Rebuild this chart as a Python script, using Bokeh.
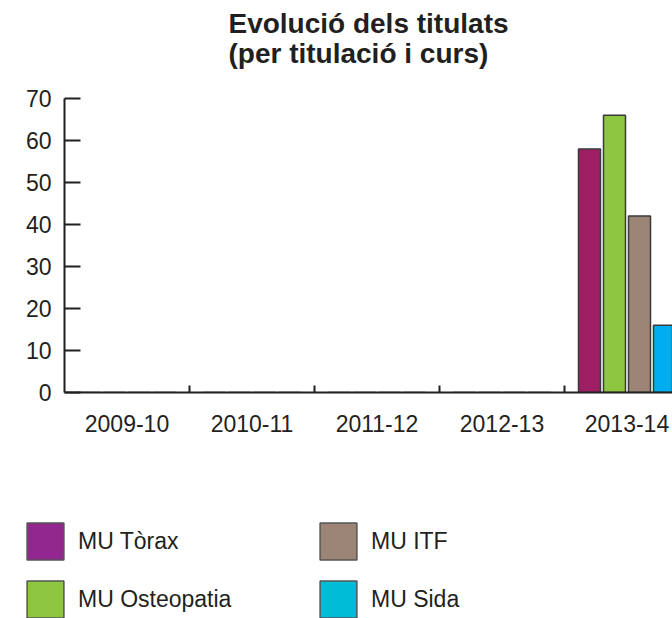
from bokeh.plotting import figure
from bokeh.models import Range1d, FixedTicker, Legend, LegendItem, ColumnDataSource, Title
from bokeh.transform import dodge
from bokeh.embed import file_html
from bokeh.resources import INLINE

# ---- data ----
cursos = ["2009-10", "2010-11", "2011-12", "2012-13", "2013-14"]
mu_torax = [0, 0, 0, 0, 58]
mu_osteopatia = [0, 0, 0, 0, 66]
mu_itf = [0, 0, 0, 0, 42]
mu_sida = [0, 0, 0, 0, 16]
series_labels = ["MU Tòrax", "MU Osteopatia", "MU ITF", "MU Sida"]
y_ticks = [0, 10, 20, 30, 40, 50, 60, 70]
title_lines = ["Evolució dels titulats", "(per titulació i curs)"]

bar_colors = ["#9e1f63", "#8dc63f", "#9c8577", "#00aeef"]
legend_colors = ["#92278f", "#8dc63f", "#9c8577", "#00bcd6"]
dark = "#231f20"
FONT = "Liberation Sans"

centers = [i + 0.5 for i in range(len(cursos))]
src = ColumnDataSource(dict(x=centers, torax=mu_torax, osteo=mu_osteopatia,
                            itf=mu_itf, sida=mu_sida))
cols = ["torax", "osteo", "itf", "sida"]
offsets = [-0.3, -0.1, 0.1, 0.3]

p = figure(width=672, height=460,
           x_range=Range1d(0, 4.864), y_range=Range1d(0, 70),
           output_backend="svg", toolbar_location=None,
           min_border_left=64, min_border_right=0,
           min_border_top=98, min_border_bottom=68)
p.outline_line_color = None
p.xgrid.visible = False
p.ygrid.visible = False

for c, off, col in zip(cols, offsets, bar_colors):
    p.vbar(x=dodge("x", off, range=p.x_range), top=c, bottom=0, width=0.176,
           source=src, fill_color=col, line_color="#3a3a3a", line_width=1.5)

# axes
xa = p.xaxis[0]
xa.ticker = FixedTicker(ticks=centers, minor_ticks=[1, 2, 3, 4])
xa.major_label_overrides = {c: lab for c, lab in zip(centers, cursos)}
xa.major_tick_in = 0
xa.major_tick_out = 0
xa.minor_tick_in = 7
xa.minor_tick_out = 0
xa.minor_tick_line_width = 2
xa.minor_tick_line_color = dark
xa.axis_line_width = 2
xa.axis_line_color = dark
xa.major_label_text_font = FONT
xa.major_label_text_font_size = "23px"
xa.major_label_text_color = dark
xa.major_label_standoff = 22

ya = p.yaxis[0]
ya.ticker = FixedTicker(ticks=y_ticks)
ya.major_tick_in = 16
ya.major_tick_out = 0
ya.major_tick_line_width = 2
ya.major_tick_line_color = dark
ya.minor_tick_in = 0
ya.minor_tick_out = 0
ya.axis_line_width = 2
ya.axis_line_color = dark
ya.major_label_text_font = FONT
ya.major_label_text_font_size = "23px"
ya.major_label_text_color = dark
ya.major_label_standoff = 13

# title (two lines), with a small spacer panel between it and the frame
p.title.text = "\n".join(title_lines)
p.title.align = "center"
p.title.offset = -27
p.title.vertical_align = "top"
p.title.standoff = 8
p.title.text_line_height = 0.97
p.title.text_font = FONT
p.title.text_font_style = "bold"
p.title.text_font_size = "28px"
p.title.text_color = dark
p.add_layout(Title(text=" ", standoff=0, text_font=FONT, text_font_size="20px"), "above")

# ---- legend figure (separate root) ----
lf = figure(width=672, height=158, x_range=Range1d(0, 1), y_range=Range1d(0, 1),
            output_backend="svg", toolbar_location=None,
            x_axis_location=None, y_axis_location=None,
            min_border_left=0, min_border_right=0, min_border_top=0,
            min_border_bottom=0)
lf.outline_line_color = None
lf.xgrid.visible = False
lf.ygrid.visible = False

items = []
for lab, c, col in zip(series_labels, cols, legend_colors):
    r = lf.vbar(x="x", top=c, width=0.1, source=src, fill_color=col,
                line_color="#555555", line_width=1.5, visible=False)
    items.append(LegendItem(label=lab, renderers=[r]))

legend = Legend(items=items, location=(22, -4), orientation="vertical", nrows=2,
                glyph_width=46, glyph_height=46, label_height=46, label_width=225,
                label_standoff=10, spacing=12, padding=0, margin=0,
                border_line_color=None, background_fill_alpha=0,
                inactive_fill_alpha=0,
                label_text_font=FONT, label_text_font_size="23px",
                label_text_color=dark)
lf.add_layout(legend, "center")

open("out.html", "w").write(file_html([p, lf], INLINE))
